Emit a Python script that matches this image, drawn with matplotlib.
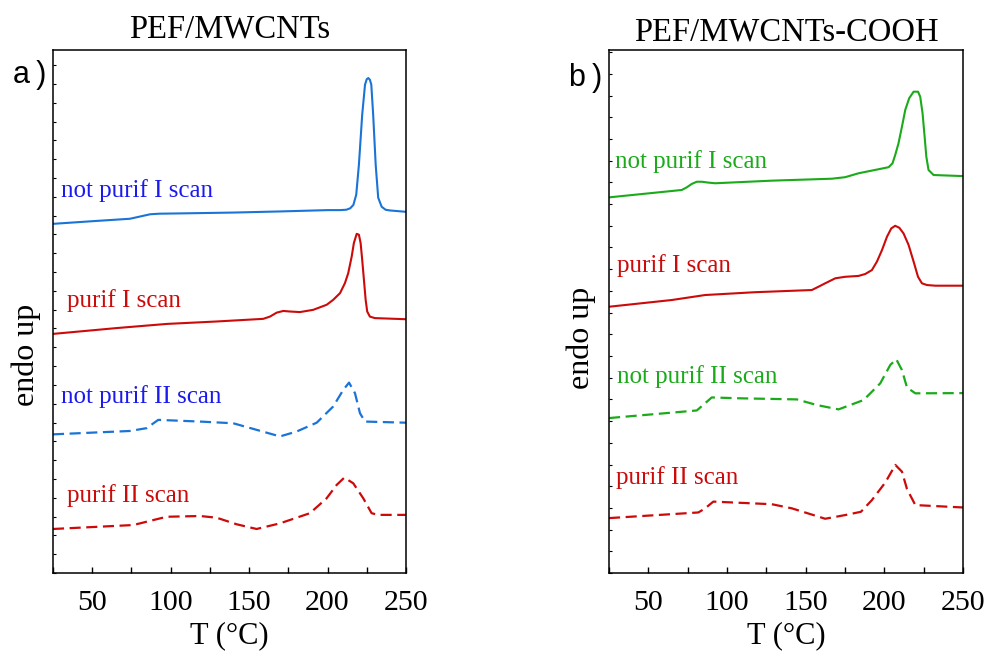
import matplotlib
matplotlib.use("Agg")
import matplotlib.pyplot as plt
from matplotlib.ticker import MultipleLocator

# --- panel a) PEF/MWCNTs ---
t_a_np1 = [25, 50, 74, 80, 87, 93, 110, 140, 170, 200, 208, 212, 214.5, 216.5, 218.3,
           220.0, 222.1, 223.9, 225.0, 226.0, 227.0, 227.9, 229.1, 230.7, 232.3, 234.5,
           237, 240, 250]
q_a_np1 = [18.56, 18.70, 18.83, 18.94, 19.07, 19.10, 19.12, 19.16, 19.22, 19.29, 19.29,
           19.31, 19.39, 19.57, 20.11, 21.70, 24.36, 25.96, 26.25, 26.31, 26.22, 25.96,
           24.36, 21.70, 19.95, 19.47, 19.31, 19.27, 19.20]

t_a_p1 = [25, 65.6, 97.5, 129.3, 159.0, 163.3, 167.6, 171.8, 176.1, 182.4, 190.9, 199.5,
          203.6, 208.0, 211.1, 213.2, 215.4, 216.8, 218.6, 220.0, 221.1, 222.1, 223.2,
          224.3, 225.3, 227.0, 230.2, 250]
q_a_p1 = [12.71, 13.02, 13.24, 13.37, 13.51, 13.63, 13.84, 13.93, 13.90, 13.87, 13.99,
          14.26, 14.52, 14.88, 15.41, 15.94, 16.82, 17.54, 18.03, 17.98, 17.54, 16.65,
          15.59, 14.52, 13.90, 13.63, 13.55, 13.49]

t_a_np2 = [25, 74.1, 84.7, 92.1, 118.7, 139.9, 154.8, 169.7, 180.3, 193.1, 203.6, 210.0,
           213.7, 217.5, 220.7, 223.9, 250]
q_a_np2 = [7.37, 7.55, 7.70, 8.14, 8.05, 7.96, 7.61, 7.26, 7.52, 7.99, 8.85, 9.73,
           10.12, 9.56, 8.49, 8.05, 7.99]

t_a_p2 = [25, 76.2, 86.8, 97.5, 118.7, 129.3, 142.1, 154.8, 169.7, 188.8, 199.4, 205.8,
          210.7, 216.4, 222.8, 228.1, 232.3, 250]
q_a_p2 = [2.34, 2.55, 2.77, 2.99, 3.03, 2.94, 2.59, 2.34, 2.64, 3.18, 3.97, 4.68,
          5.07, 4.77, 3.97, 3.18, 3.09, 3.09]

# --- panel b) PEF/MWCNTs-COOH ---
t_b_np1 = [25, 71.2, 74.4, 77.6, 80.8, 84.0, 88.2, 92.4, 128.5, 166.7, 175.1, 183.6,
           202.7, 205.2, 206.9, 209.0, 211.2, 213.3, 215.8, 218.6, 221.4, 222.8, 224.3,
           225.6, 226.7, 228.1, 231.3, 250]
q_b_np1 = [17.31, 17.65, 17.77, 17.93, 18.03, 18.03, 17.99, 17.96, 18.08, 18.17, 18.24,
           18.42, 18.70, 18.88, 19.26, 19.80, 20.57, 21.34, 21.88, 22.18, 22.18, 21.95,
           21.18, 20.11, 19.18, 18.57, 18.34, 18.29]

t_b_p1 = [25, 64.9, 86.1, 117.9, 153.9, 158.1, 162.4, 168.8, 175.1, 183.6, 187.9, 192.1,
          195.3, 198.5, 201.7, 204.4, 206.9, 209.5, 212.2, 215.4, 218.6, 221.4, 223.9,
          227.1, 232.4, 250]
q_b_p1 = [12.27, 12.58, 12.81, 12.94, 13.04, 13.19, 13.35, 13.58, 13.65, 13.69, 13.78,
          13.96, 14.35, 14.88, 15.50, 15.88, 16.00, 15.91, 15.65, 15.12, 14.35, 13.65,
          13.35, 13.27, 13.24, 13.24]

t_b_np2 = [25, 80.8, 90.3, 108.3, 144.4, 157.1, 170.9, 186.8, 197.4, 203.8, 207.6, 211.2,
           214.4, 219.7, 250]
q_b_np2 = [7.14, 7.49, 8.09, 8.05, 8.00, 7.74, 7.54, 7.97, 8.74, 9.59, 9.85, 9.35,
           8.55, 8.28, 8.29]

t_b_p2 = [25, 81.8, 86.1, 91.3, 128.5, 141.2, 162.4, 175.1, 185.1, 192.1, 200.6, 207.0,
          211.2, 214.4, 219.7, 250]
q_b_p2 = [2.53, 2.79, 2.98, 3.29, 3.17, 2.98, 2.50, 2.67, 2.82, 3.36, 4.17, 4.98,
          4.67, 3.87, 3.13, 3.02]

BLUE_L, BLUE_T = "#1a74d6", "#1a1aee"
RED = "#cc0a0a"
GREEN = "#1aaa1a"
DASH = (0, (5, 2.5))
SERIF = "Liberation Serif"

fig = plt.figure(figsize=(9.88, 6.53), dpi=100)
ax1 = fig.add_axes([0.0536, 0.1225, 0.3573, 0.8009])
ax2 = fig.add_axes([0.6164, 0.1225, 0.3583, 0.8009])

ax1.plot(t_a_np1, q_a_np1, color=BLUE_L, lw=1.5)
ax1.plot(t_a_p1, q_a_p1, color=RED, lw=1.5)
ax1.plot(t_a_np2, q_a_np2, color=BLUE_L, lw=1.6, ls=DASH)
ax1.plot(t_a_p2, q_a_p2, color=RED, lw=1.6, ls=DASH)

ax2.plot(t_b_np1, q_b_np1, color=GREEN, lw=1.5)
ax2.plot(t_b_p1, q_b_p1, color=RED, lw=1.5)
ax2.plot(t_b_np2, q_b_np2, color=GREEN, lw=1.6, ls=DASH)
ax2.plot(t_b_p2, q_b_p2, color=RED, lw=1.6, ls=DASH)

lab_kw = dict(fontsize=18, family=SERIF, va="baseline")
ax1.text(30.1, 20.0, "not purif I scan", color=BLUE_T, **lab_kw)
ax1.text(33.7, 14.15, "purif I scan", color=RED, **lab_kw)
ax1.text(30.1, 9.04, "not purif II scan", color=BLUE_T, **lab_kw)
ax1.text(33.7, 3.79, "purif II scan", color=RED, **lab_kw)

ax2.text(28.8, 18.65, "not purif I scan", color=GREEN, **lab_kw)
ax2.text(30.3, 13.88, "purif I scan", color=RED, **lab_kw)
ax2.text(30.3, 8.77, "not purif II scan", color=GREEN, **lab_kw)
ax2.text(29.5, 4.09, "purif II scan", color=RED, **lab_kw)

ax1.set_ylim(0, 27.8)
ax2.set_ylim(0, 24.1)

for ax, title, pad in [(ax1, "PEF/MWCNTs", 9), (ax2, "PEF/MWCNTs-COOH", 7)]:
    ax.set_xlim(25, 250)
    ax.xaxis.set_major_locator(MultipleLocator(50))
    ax.xaxis.set_minor_locator(MultipleLocator(25))
    ax.yaxis.set_major_locator(MultipleLocator(1))
    ax.tick_params(axis="x", which="both", direction="in", length=4, width=1,
                   top=False, labelsize=21.5, pad=12)
    ax.tick_params(axis="y", which="major", direction="in", length=2.5, width=0.8,
                   right=False, labelleft=False)
    for lbl in ax.get_xticklabels():
        lbl.set_family(SERIF)
    for sp in ax.spines.values():
        sp.set_linewidth(1.1)
    ax.set_title(title, family=SERIF, fontsize=23.5, pad=pad)
    ax.set_xlabel("T (°C)", family=SERIF, fontsize=22, labelpad=4)
    ax.set_ylabel("endo up", family=SERIF, fontsize=23)

ax1.yaxis.set_label_coords(-0.034, 0.417)
ax2.yaxis.set_label_coords(-0.037, 0.449)

fig.text(13 / 988, 1 - 83 / 653, "a\u2009)", family="Liberation Sans", fontsize=22, va="baseline")
fig.text(569 / 988, 1 - 86 / 653, "b\u2009)", family="Liberation Sans", fontsize=22, va="baseline")

fig.savefig("out.png", dpi=100)
